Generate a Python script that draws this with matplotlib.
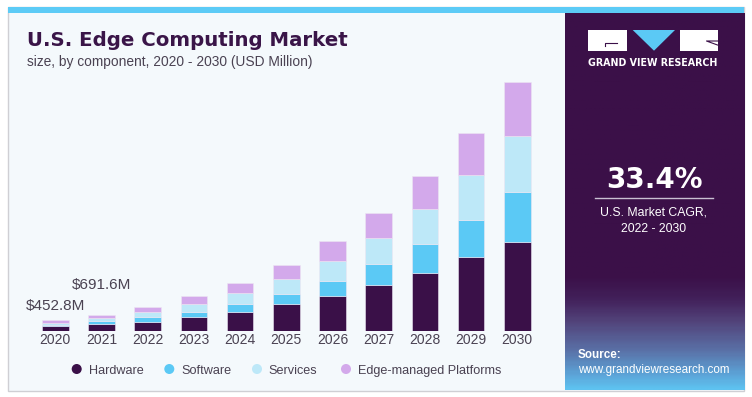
import numpy as np
import matplotlib
matplotlib.use("Agg")
import matplotlib.pyplot as plt
from matplotlib.patches import Rectangle, Polygon
from matplotlib.colors import LinearSegmentedColormap

# ---------------- data ----------------
years = ["2020", "2021", "2022", "2023", "2024", "2025", "2026", "2027", "2028", "2029", "2030"]
hardware = [195, 290, 391, 575, 819, 1134, 1457, 1932, 2449, 3095, 3738]
software = [74, 136, 197, 235, 323, 420, 655, 882, 1218, 1567, 2113]
services = [86, 100, 197, 323, 441, 617, 827, 1079, 1445, 1877, 2352]
edge_platforms = [97.8, 165.6, 210, 323, 445, 601, 827, 1084, 1399, 1798, 2268]
series_names = ["Hardware", "Software", "Services", "Edge-managed Platforms"]
label_2020 = "$452.8M"
label_2021 = "$691.6M"
cagr_text = "33.4%"

colors = ["#3a1048", "#5bc9f5", "#bde8f8", "#d3a9eb"]
dark = "#3a1048"
txt = "#4a4252"

W, H = 752, 397
fig = plt.figure(figsize=(W / 100, H / 100), dpi=100)
fig.patch.set_facecolor("white")

# background / decoration axes in pixel coords
bg = fig.add_axes([0, 0, 1, 1])
bg.set_xlim(0, W)
bg.set_ylim(H, 0)
bg.axis("off")

# card
bg.add_patch(Rectangle((8, 7), 736, 384, facecolor="#f4f9fc", edgecolor="#cfcfd4", lw=1.0, zorder=0))
# top strip
bg.add_patch(Rectangle((8, 7), 736, 6, facecolor="#5ccbf6", edgecolor="none", zorder=1))

# right panel gradient
stops = [(0.0, "#3b1048"), (0.70, "#3b1048"), (0.76, "#42205a"),
         (0.82, "#52437a"), (0.90, "#5a72a8"), (0.96, "#5ca2d6"), (1.0, "#5ec2f0")]
cmap = LinearSegmentedColormap.from_list("panel", stops)
grad = np.linspace(0, 1, 300).reshape(-1, 1)
bg.imshow(grad, cmap=cmap, extent=(564.5, 744, 390, 13), origin="upper", aspect="auto", zorder=1)
bg.set_xlim(0, W)
bg.set_ylim(H, 0)

# logo
bg.add_patch(Rectangle((587.5, 30), 39.5, 20.7, facecolor="white", edgecolor="none", zorder=3))
bg.plot([605, 605, 617], [46, 42.8, 42.8], color=dark, lw=0.8, zorder=4)
bg.add_patch(Polygon([(632.7, 30), (675, 30), (654, 50.7)], closed=True, facecolor="#5bc9f5", edgecolor="none", zorder=3))
bg.add_patch(Rectangle((680, 30), 38, 20.7, facecolor="white", edgecolor="none", zorder=3))
bg.plot([717.5, 706.5, 717.5], [41, 41, 45], color=dark, lw=0.8, zorder=4)
bg.text(653, 66, "GRAND VIEW RESEARCH", color="white", fontsize=6.85, fontweight="bold",
        family="DejaVu Sans", ha="center", va="baseline", zorder=4)

# CAGR
bg.text(654, 188.5, cagr_text, color="white", fontsize=20, fontweight="bold",
        family="DejaVu Sans", ha="center", va="baseline", zorder=4)
bg.plot([595, 712.7], [198.3, 198.3], color="#c9c0d2", lw=1.0, zorder=4)
bg.text(654, 215.5, "U.S. Market CAGR,", color="white", fontsize=8.8,
        family="Liberation Sans", ha="center", va="baseline", zorder=4)
bg.text(654, 232, "2022 - 2030", color="white", fontsize=8.8,
        family="Liberation Sans", ha="center", va="baseline", zorder=4)

# source
bg.text(578, 358.5, "Source:", color="white", fontsize=8.4, fontweight="bold",
        family="Liberation Sans", ha="left", va="baseline", zorder=4)
bg.text(578, 373, "www.grandviewresearch.com", color="white", fontsize=8.4,
        family="Liberation Sans", ha="left", va="baseline", zorder=4)

# titles
bg.text(27, 45.7, "U.S. Edge Computing Market", color="#3a1548", fontsize=14.2,
        family="DejaVu Sans", fontweight="bold", ha="left", va="baseline", zorder=4)
bg.text(27, 65.7, "size, by component, 2020 - 2030 (USD Million)", color=txt, fontsize=9.9,
        family="Liberation Sans", ha="left", va="baseline", zorder=4)

# ---------------- chart ----------------
base_px, top_px = 331, 75
left_px, right_px = 30, 543
c0, c10 = 55.3, 517.3
step = (c10 - c0) / 10
scale = 42.0  # USD M per pixel
ax = fig.add_axes([left_px / W, (H - base_px) / H, (right_px - left_px) / W, (base_px - top_px) / H])
ax.set_facecolor("none")
ax.set_xlim(-(c0 - left_px) / step, 10 + (right_px - c10) / step)
ax.set_ylim(0, (base_px - top_px) * scale)

x = np.arange(len(years))
bottom = np.zeros(len(years))
for vals, col in zip([hardware, software, services, edge_platforms], colors):
    ax.bar(x, vals, width=0.58, bottom=bottom, color=col, edgecolor="#ece6f2", linewidth=0.4, zorder=2)
    bottom = bottom + np.array(vals)

ax.annotate(label_2020, xy=(0, bottom[0]), xytext=(0, 10.5), textcoords="offset pixels",
            ha="center", va="baseline", fontsize=11, color=txt, family="Liberation Sans")
ax.annotate(label_2021, xy=(1, bottom[1]), xytext=(0, 25.5), textcoords="offset pixels",
            ha="center", va="baseline", fontsize=11, color=txt, family="Liberation Sans")

ax.set_xticks(x)
ax.set_xticklabels(years, fontsize=10, color=txt, family="Liberation Sans")
ax.tick_params(axis="x", length=0, pad=1.8)
ax.set_yticks([])
for s in ax.spines.values():
    s.set_visible(False)

# legend (manual, figure pixel coords)
marker_x = [76.7, 169.3, 257, 346]
for mx, name, col in zip(marker_x, series_names, colors):
    bg.scatter([mx], [369], s=52, color=col, edgecolors="none", zorder=5)
    bg.text(mx + 11.8, 374, name, fontsize=9.1, color=txt, family="Liberation Sans",
            ha="left", va="baseline", zorder=5)

fig.savefig("out.png", dpi=100)
